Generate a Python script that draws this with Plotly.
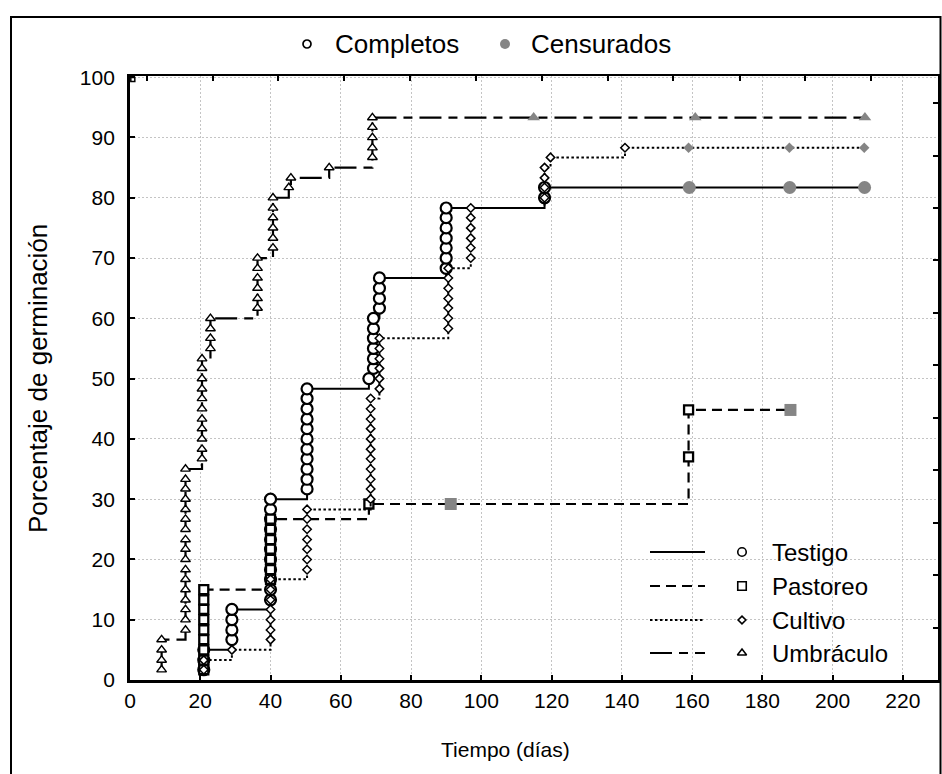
import plotly.graph_objects as go

W, H = 942, 774
PL, PR, PT, PB = 130, 938, 76, 680   # plot area in pixels

# ---------------- data ----------------
testigo_t = [21, 21, 21,
             29, 29, 29, 29,
             40, 40, 40, 40, 40, 40, 40, 40, 40, 40, 40,
             50.4, 50.4, 50.4, 50.4, 50.4, 50.4, 50.4, 50.4, 50.4, 50.4, 50.4,
             68,
             69.3, 69.3, 69.3, 69.3, 69.3, 69.3,
             71, 71, 71, 71,
             90, 90, 90, 90, 90, 90, 90,
             118, 118]
testigo_y = [1.7, 3.3, 5.0,
             6.7, 8.3, 10.0, 11.7,
             13.3, 15.0, 16.7, 18.3, 20.0, 21.7, 23.3, 25.0, 26.7, 28.3, 30.0,
             31.7, 33.3, 35.0, 36.7, 38.3, 40.0, 41.7, 43.3, 45.0, 46.7, 48.3,
             50.0,
             51.7, 53.3, 55.0, 56.7, 58.3, 60.0,
             61.7, 63.3, 65.0, 66.7,
             68.3, 70.0, 71.7, 73.3, 75.0, 76.7, 78.3,
             80.0, 81.7]
testigo_cens_t = [159.2, 187.8, 209.1]
testigo_cens_y = [81.7, 81.7, 81.7]

pastoreo_t = [21, 21, 21, 21, 21, 21, 21, 21, 21,
              40, 40, 40, 40, 40, 40, 40,
              68,
              159, 159]
pastoreo_y = [1.7, 3.3, 5.0, 6.7, 8.3, 10.0, 11.7, 13.3, 15.0,
              16.7, 18.3, 20.0, 21.7, 23.3, 25.0, 26.7,
              29.2,
              37.0, 44.8]
pastoreo_cens_t = [91.3, 188.0]
pastoreo_cens_y = [29.2, 44.8]

cultivo_t = [21, 21,
             29,
             40, 40, 40, 40, 40, 40, 40,
             50.4, 50.4, 50.4, 50.4, 50.4, 50.4, 50.4,
             68.5, 68.5, 68.5, 68.5, 68.5, 68.5, 68.5, 68.5, 68.5, 68.5, 68.5,
             71, 71, 71, 71, 71, 71,
             90.6, 90.6, 90.6, 90.6, 90.6, 90.6, 90.6,
             97, 97, 97, 97, 97, 97,
             118, 118, 118, 118,
             119.7,
             140.9]
cultivo_y = [1.7, 3.3,
             5.0,
             6.7, 8.3, 10.0, 11.7, 13.3, 15.0, 16.7,
             18.3, 20.0, 21.7, 23.3, 25.0, 26.7, 28.3,
             30.0, 31.7, 33.3, 35.0, 36.7, 38.3, 40.0, 41.7, 43.3, 45.0, 46.7,
             48.3, 50.0, 51.7, 53.3, 55.0, 56.7,
             58.3, 60.0, 61.7, 63.3, 65.0, 66.7, 68.3,
             70.0, 71.7, 73.3, 75.0, 76.7, 78.3,
             80.0, 81.7, 83.3, 85.0,
             86.7,
             88.3]
cultivo_cens_t = [159.0, 187.7, 209.0]
cultivo_cens_y = [88.3, 88.3, 88.3]

umbraculo_t = [9, 9, 9, 9,
               15.8, 15.8, 15.8, 15.8, 15.8, 15.8, 15.8, 15.8, 15.8, 15.8, 15.8, 15.8, 15.8, 15.8, 15.8, 15.8, 15.8,
               20.5, 20.5, 20.5, 20.5, 20.5, 20.5, 20.5, 20.5, 20.5, 20.5, 20.5,
               22.9, 22.9, 22.9, 22.9,
               36.3, 36.3, 36.3, 36.3, 36.3, 36.3,
               40.7, 40.7, 40.7, 40.7, 40.7, 40.7,
               45.2, 45.8,
               56.7,
               69, 69, 69, 69, 69]
umbraculo_y = [1.7, 3.3, 5.0, 6.7,
               8.3, 10.0, 11.7, 13.3, 15.0, 16.7, 18.3, 20.0, 21.7, 23.3, 25.0, 26.7, 28.3, 30.0, 31.7, 33.3, 35.0,
               36.7, 38.3, 40.0, 41.7, 43.3, 45.0, 46.7, 48.3, 50.0, 51.7, 53.3,
               55.0, 56.7, 58.3, 60.0,
               61.7, 63.3, 65.0, 66.7, 68.3, 70.0,
               71.7, 73.3, 75.0, 76.7, 78.3, 80.0,
               81.7, 83.3,
               85.0,
               86.7, 88.3, 90.0, 91.7, 93.3]
umbraculo_cens_t = [114.9, 160.9, 209.2]
umbraculo_cens_y = [93.3, 93.3, 93.3]

stray_t = [0.8]
stray_y = [99.6]

x_ticks = [0, 20, 40, 60, 80, 100, 120, 140, 160, 180, 200, 220]
y_ticks = [0, 10, 20, 30, 40, 50, 60, 70, 80, 90, 100]
top_ticks = [4.7, 23.5, 42.2, 61.0, 79.7, 98.5, 117.2, 136.0, 154.7, 173.5, 192.2, 211.0]
right_ticks = [8.7, 17.4, 26.1, 34.8, 43.5, 52.2, 60.9, 69.6, 78.3, 87.0, 95.7]

legend_labels = ["Testigo", "Pastoreo", "Cultivo", "Umbráculo"]
top_legend_labels = ["Completos", "Censurados"]
x_title = "Tiempo (días)"
y_title = "Porcentaje de germinación"

# ---------------- styles ----------------
FONT = "Liberation Sans, Arial, Helvetica, sans-serif"
GRAY = "#858585"
series = [
    dict(name="Testigo", t=testigo_t, y=testigo_y, ct=testigo_cens_t, cy=testigo_cens_y,
         sym="circle", size=11, lw=2.2, csym="circle", csize=13,
         dash="solid", width=2.0, lsize=8.5),
    dict(name="Pastoreo", t=pastoreo_t, y=pastoreo_y, ct=pastoreo_cens_t, cy=pastoreo_cens_y,
         sym="square", size=9, lw=2.3, csym="square", csize=12,
         dash="10px,6px", width=2.2, lsize=8.5),
    dict(name="Cultivo", t=cultivo_t, y=cultivo_y, ct=cultivo_cens_t, cy=cultivo_cens_y,
         sym="diamond", size=6.5, lw=1.5, csym="diamond", csize=8,
         dash="2.5px,2.5px", width=2.0, lsize=6),
    dict(name="Umbráculo", t=umbraculo_t, y=umbraculo_y, ct=umbraculo_cens_t, cy=umbraculo_cens_y,
         sym="triangle-up", size=8.5, lw=1.4, csym="triangle-up", csize=11,
         dash="22px,7px,9px,7px", width=2.2, lsize=8),
]

fig = go.Figure()

for s in series:
    pts = sorted(zip(list(s["t"]) + list(s["ct"]), list(s["y"]) + list(s["cy"])))
    fig.add_trace(go.Scatter(
        x=[p[0] for p in pts], y=[p[1] for p in pts], mode="lines",
        line=dict(color="black", width=s["width"], dash=s["dash"], shape="hv"),
        hoverinfo="skip", showlegend=False))
    fig.add_trace(go.Scatter(
        x=s["t"], y=s["y"], mode="markers", name=s["name"],
        marker=dict(symbol=s["sym"], size=s["size"], color="white",
                    line=dict(color="black", width=s["lw"])),
        showlegend=False, cliponaxis=False))
    fig.add_trace(go.Scatter(
        x=s["ct"], y=s["cy"], mode="markers", name=s["name"] + " censurado",
        marker=dict(symbol=s["csym"], size=s["csize"], color=GRAY, line=dict(width=0)),
        showlegend=False, cliponaxis=False))

fig.add_trace(go.Scatter(
    x=stray_t, y=stray_y, mode="markers",
    marker=dict(symbol="square", size=4, color="white", line=dict(color="black", width=1.5)),
    showlegend=False, hoverinfo="skip", cliponaxis=False))

# anchor trace for top/right tick axes
fig.add_trace(go.Scatter(x=[None], y=[None], xaxis="x2", yaxis="y2",
                         mode="markers", showlegend=False, hoverinfo="skip"))

# ---------------- legend drawn on a pixel overlay ----------------
LX0, LX1, LMX, LTX = 650, 705, 742, 770
LROWS = [552, 586, 620, 653]
for s, ly, lab in zip(series, LROWS, legend_labels):
    fig.add_trace(go.Scatter(
        x=[LX0, LX1], y=[ly, ly], xaxis="x3", yaxis="y3", mode="lines",
        line=dict(color="black", width=2, dash=s["dash"]),
        showlegend=False, hoverinfo="skip"))
    fig.add_trace(go.Scatter(
        x=[LMX], y=[ly], xaxis="x3", yaxis="y3", mode="markers",
        marker=dict(symbol=s["sym"], size=s["lsize"], color="white",
                    line=dict(color="black", width=1.6)),
        showlegend=False, hoverinfo="skip"))
    fig.add_annotation(x=LTX, y=ly, xref="x3", yref="y3", text=lab, showarrow=False,
                       xanchor="left", yanchor="middle",
                       font=dict(family=FONT, size=24, color="black"))

TLY = 44
fig.add_trace(go.Scatter(
    x=[307], y=[TLY], xaxis="x3", yaxis="y3", mode="markers",
    marker=dict(symbol="circle", size=8, color="white", line=dict(color="black", width=1.7)),
    showlegend=False, hoverinfo="skip"))
fig.add_trace(go.Scatter(
    x=[505], y=[TLY], xaxis="x3", yaxis="y3", mode="markers",
    marker=dict(symbol="circle", size=10, color=GRAY, line=dict(width=0)),
    showlegend=False, hoverinfo="skip"))
for xx, lab in zip([333, 529], top_legend_labels):
    fig.add_annotation(x=xx, y=TLY, xref="x3", yref="y3", text=lab, showarrow=False,
                       xanchor="left", yanchor="middle",
                       font=dict(family=FONT, size=26, color="black"))

# axis titles
fig.add_annotation(x=505, y=749, xref="x3", yref="y3", text=x_title, showarrow=False,
                   xanchor="center", yanchor="middle",
                   font=dict(family=FONT, size=21, color="black"))
fig.add_annotation(x=38, y=379, xref="x3", yref="y3", text=y_title, showarrow=False,
                   xanchor="center", yanchor="middle", textangle=-90,
                   font=dict(family=FONT, size=26, color="black"))

# outer frame
fig.add_shape(type="rect", xref="paper", yref="paper",
              x0=11 / W, x1=940.5 / W, y0=-0.05, y1=1 - 17 / H,
              line=dict(color="black", width=2), fillcolor="rgba(0,0,0,0)", layer="above")

xdom = [PL / W, PR / W]
ydom = [1 - PB / H, 1 - PT / H]
grid = dict(showgrid=True, gridcolor="#c4c4c4", gridwidth=1, griddash="2px,2px")

fig.update_layout(
    width=W, height=H,
    margin=dict(l=0, r=0, t=0, b=0),
    paper_bgcolor="white", plot_bgcolor="rgba(0,0,0,0)",
    showlegend=False,
    font=dict(family=FONT, size=21, color="black"),
    xaxis=dict(domain=xdom, range=[0, 230], tickvals=x_ticks, ticks="inside", ticklen=5,
               tickwidth=1.5, tickcolor="black", showline=True, linewidth=2.8, linecolor="black",
               zeroline=False, anchor="y", automargin=False,
               tickfont=dict(size=21), **grid),
    yaxis=dict(domain=ydom, range=[0, 100.2], tickvals=y_ticks, ticks="inside", ticklen=5,
               tickwidth=1.5, tickcolor="black", showline=True, linewidth=2.8, linecolor="black",
               zeroline=False, anchor="x", automargin=False, ticklabelstandoff=8,
               tickfont=dict(size=21), **grid),
    xaxis2=dict(overlaying="x", side="top", range=[0, 230], tickvals=top_ticks,
                ticks="inside", ticklen=5, tickwidth=1.5, tickcolor="black",
                showticklabels=False, showgrid=False, zeroline=False,
                showline=True, linewidth=2, linecolor="black", anchor="y2"),
    yaxis2=dict(overlaying="y", side="right", range=[0, 100.2], tickvals=right_ticks,
                ticks="inside", ticklen=5, tickwidth=1.5, tickcolor="black",
                showticklabels=False, showgrid=False, zeroline=False,
                showline=True, linewidth=2, linecolor="black", anchor="x2"),
    xaxis3=dict(domain=[0, 1], range=[0, W], visible=False, anchor="y3", fixedrange=True),
    yaxis3=dict(domain=[0, 1], range=[H, 0], visible=False, anchor="x3", fixedrange=True),
)

fig.write_html("out.html", config={"displayModeBar": False},
               post_script="document.body.style.margin='0';document.body.style.overflow='hidden';")
